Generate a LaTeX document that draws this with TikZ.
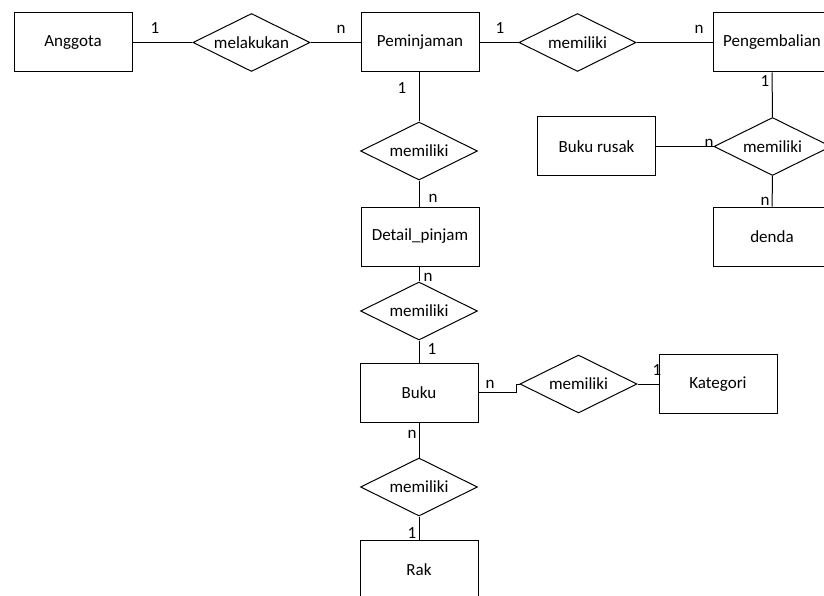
\documentclass[tikz,border=0pt]{standalone}
\usepackage{fontspec}
\setmainfont{Carlito}
\usepackage{tikz}
\usetikzlibrary{calc,shapes.geometric}

\begin{document}
\begin{tikzpicture}[
    x=1pt, y=-1pt,
    every node/.style={color=black, font=\fontsize{17}{20}\selectfont},
    entity/.style={draw, line width=1pt, rectangle, minimum width=118pt,
    minimum height=59pt, inner sep=0pt},
    relation/.style={draw, line width=1pt, diamond, aspect=2, minimum width=117pt,
    minimum height=58pt, inner sep=0pt},
    card/.style={inner sep=0pt, anchor=center},
    link/.style={line width=1pt}
    ]
    \path[use as bounding box] (0,0) rectangle (824,596);
    \clip (0,0) rectangle (824,596);
    % Entities
    \node[entity] (anggota) at (73,42.5) {Anggota};
    \node[entity] (pinjam) at (420,42.5) {Peminjaman};
    \node[entity] (kembali) at (772,42.5) {Pengembalian};
    \node[entity] (rusak) at (596.5,146.5) {Buku rusak};
    \node[entity] (denda) at (772,236.5) {denda};
    \node[entity] (detail) at (420,236.5) {Detail\_pinjam};
    \node[entity] (buku) at (419,392.5) {Buku};
    \node[entity] (kategori) at (718,384) {Kategori};
    \node[entity] (rak) at (419,569.5) {Rak};
    % Relations
    \node[relation] (lakukan) at (251.5,42.5) {melakukan};
    \node[relation] (milik1) at (577.5,42.5) {memiliki};
    \node[relation] (milik2) at (772.5,146.5) {memiliki};
    \node[relation] (milik3) at (419,151) {memiliki};
    \node[relation] (milik4) at (419,311) {memiliki};
    \node[relation] (milik5) at (578.5,384) {memiliki};
    \node[relation] (milik6) at (419,487) {memiliki};
    % Lines
    \draw[link] (anggota) -- (lakukan);
    \draw[link] (lakukan) -- (pinjam);
    \draw[link] (pinjam) -- (milik1);
    \draw[link] (milik1) -- (kembali);
    \draw[link] (kembali) -- (milik2);
    \draw[link] (rusak) -- (milik2);
    \draw[link] (milik2) -- (denda);
    \draw[link] (pinjam.south -| milik3.north) -- (milik3);
    \draw[link] (milik3) -- (milik3 |- detail.north);
    \draw[link] (detail.south -| milik4.north) -- (milik4);
    \draw[link] (milik4) -- (buku);
    \draw[link] (buku.east) -- ++(38,0) |- (milik5.west);
    \draw[link] (milik5) -- (kategori);
    \draw[link] (buku) -- (milik6);
    \draw[link] (milik6) -- (rak);
    % Cardinalities
    \node[card] (c1) at (155,28) {1};
    \node[card] (c2) at (341,29) {n};
    \node[card] (c3) at (500,28) {1};
    \node[card] (c4) at (699,29) {n};
    \node[card] (c5) at (765,81) {1};
    \node[card] (c6) at (709,143) {n};
    \node[card] (c7) at (765,201) {n};
    \node[card] (c8) at (402,88) {1};
    \node[card] (c9) at (433,198) {n};
    \node[card] (c10) at (428,277) {n};
    \node[card] (c11) at (432,349) {1};
    \node[card] (c12) at (490,384) {n};
    \node[card] (c13) at (657,370) {1};
    \node[card] (c14) at (412,434) {n};
    \node[card] (c15) at (412,533) {1};
\end{tikzpicture}
\end{document}
